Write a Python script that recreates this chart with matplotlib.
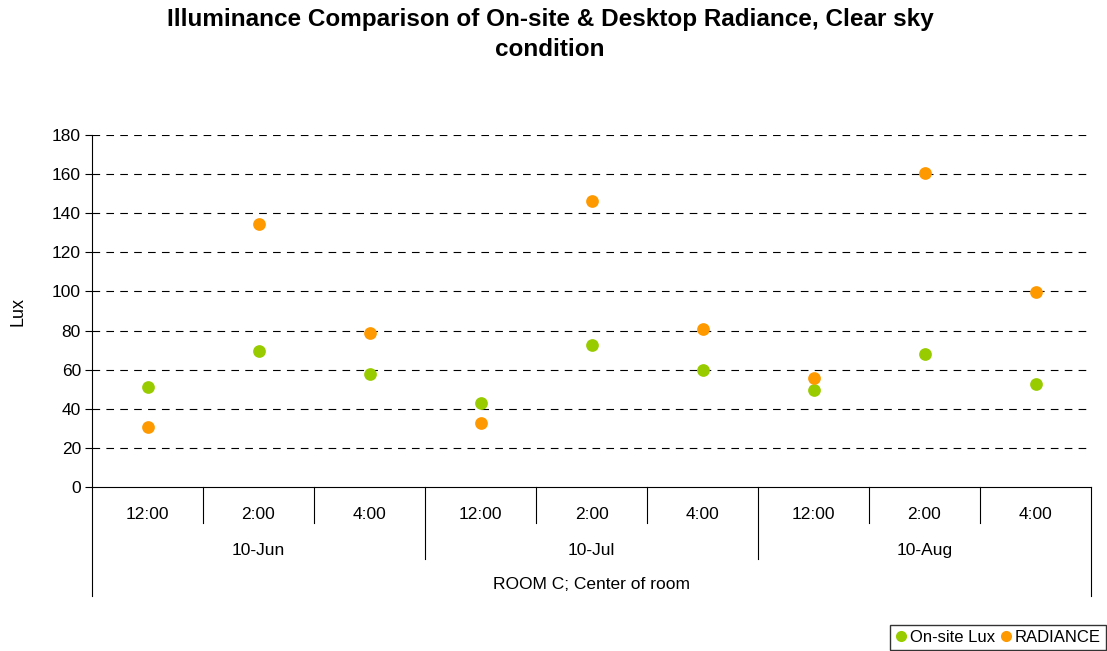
import matplotlib.pyplot as plt
from matplotlib.lines import Line2D

plt.rcParams['font.family'] = ['Liberation Sans', 'DejaVu Sans']
plt.rcParams['lines.scale_dashes'] = False

# measurements per visit time, Room C centre point
times = ["12:00", "2:00", "4:00", "12:00", "2:00", "4:00", "12:00", "2:00", "4:00"]
dates = ["10-Jun", "10-Jul", "10-Aug"]
onsite_lux = [51, 69.5, 58, 43, 72.5, 60, 49.5, 68, 52.5]
radiance = [30.5, 134.5, 79, 32.5, 146, 81, 55.5, 160.5, 99.5]

green = "#99CC00"
orange = "#FF9900"

fig = plt.figure(figsize=(11.07, 6.51), dpi=100)
ax = fig.add_axes([92/1107, 1 - 487/651, 999/1107, 352/651])

x = list(range(len(times)))
ax.scatter(x, onsite_lux, s=84, color=green, zorder=3, linewidths=0)
ax.scatter(x, radiance, s=84, color=orange, zorder=3, linewidths=0)

ax.set_xlim(-0.5, len(times) - 0.5)
ax.set_ylim(0, 180)
ax.set_yticks(range(0, 181, 20))
ax.tick_params(axis='y', labelsize=12.5, length=5, width=0.8, pad=3)
ax.set_xticks([])

for v in range(20, 181, 20):
    ax.axhline(v, color="black", lw=0.8, dashes=(5.5, 4.5), zorder=1)

for s in ["top", "right"]:
    ax.spines[s].set_visible(False)
ax.spines["left"].set_linewidth(0.8)
ax.spines["bottom"].set_linewidth(0.8)

ax.set_ylabel("Lux", fontsize=13, labelpad=18)

# multi-level category axis
tr = ax.get_xaxis_transform()
for i in range(len(times) + 1):
    xb = i - 0.5
    if i == 0 or i == len(times):
        bottom = -0.31
    elif i % 3 == 0:
        bottom = -0.205
    else:
        bottom = -0.102
    ax.plot([xb, xb], [0, bottom], color="black", lw=0.8, transform=tr, clip_on=False)

for i, t in enumerate(times):
    ax.text(i, -0.077, t, transform=tr, ha="center", va="center", fontsize=12.5)
for j, d in enumerate(dates):
    ax.text(3 * j + 1, -0.179, d, transform=tr, ha="center", va="center", fontsize=12.5)
ax.text(4, -0.278, "ROOM C; Center of room", transform=tr, ha="center", va="center", fontsize=12.5)

fig.text(0.497, 0.988, "Illuminance Comparison of On-site & Desktop Radiance, Clear sky\ncondition",
         ha="center", va="top", fontsize=17.5, fontweight="bold", linespacing=1.38)

handles = [Line2D([], [], ls="none", marker="o", ms=8, color=green, mec="none"),
           Line2D([], [], ls="none", marker="o", ms=8, color=orange, mec="none")]
fig.legend(handles, ["On-site Lux", "RADIANCE"], loc="lower right", bbox_to_anchor=(0.999, 0.002),
           ncol=2, fontsize=12, frameon=True, fancybox=False, edgecolor="black",
           handlelength=0.7, handletextpad=0.2, columnspacing=0.3, borderpad=0.3,
           borderaxespad=0)

fig.savefig("out.png", dpi=100)
